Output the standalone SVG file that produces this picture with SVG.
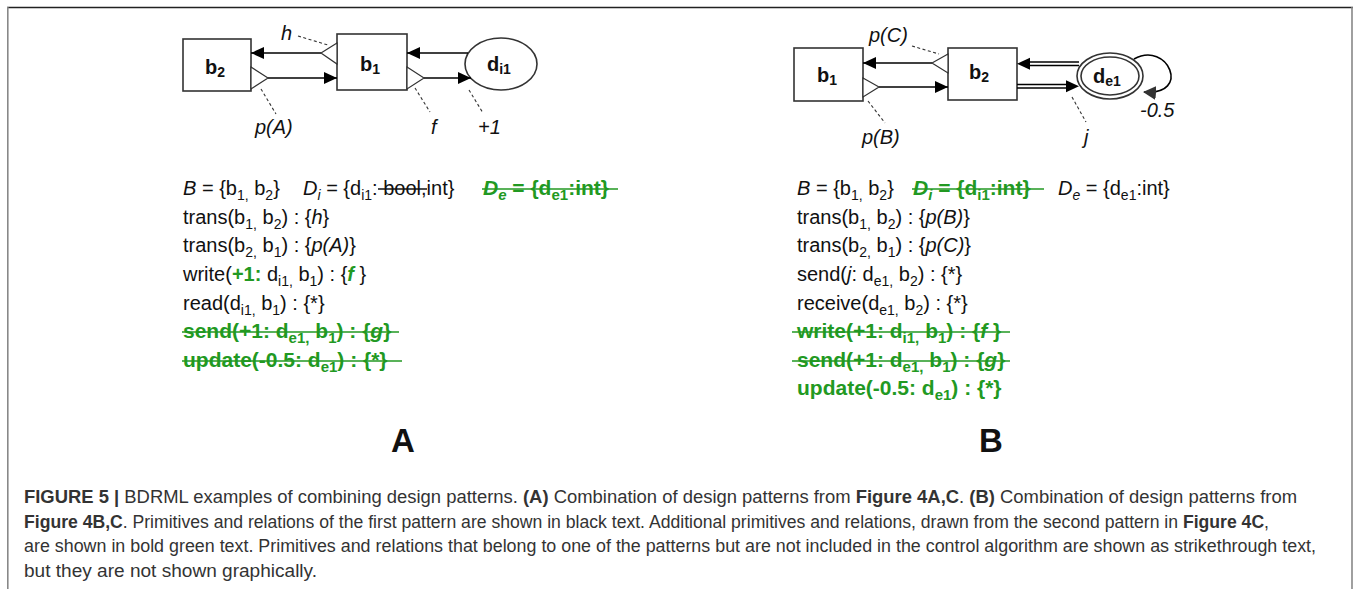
<svg xmlns="http://www.w3.org/2000/svg" width="1356" height="589" viewBox="0 0 1356 589">
<style>
.box{fill:#fff;stroke:#333;stroke-width:1.6}
.ln{stroke:#000;stroke-width:1.6;fill:none}
.tri{fill:#fff;stroke:#333;stroke-width:1.2}
.dash{stroke:#333;stroke-width:1.1;stroke-dasharray:3 2.5;fill:none}
.nl{font-family:"Liberation Sans",Arial,sans-serif;font-weight:bold;font-size:20px;fill:#111}
.lbl{font-family:"Liberation Sans",Arial,sans-serif;font-style:italic;font-size:20px;fill:#111}
.t{font-family:"Liberation Sans",Arial,sans-serif;font-size:20px;fill:#111}
.g{fill:#229922;font-weight:bold}
.gl{font-size:21px}
.st{stroke-width:1.7;fill:none}
.cap{font-family:"Liberation Sans",Arial,sans-serif;font-size:17.5px;fill:#333}
.big{font-family:"Liberation Sans",Arial,sans-serif;font-weight:bold;font-size:33px;fill:#111}
</style>
<defs>
<marker id="ah" markerUnits="userSpaceOnUse" markerWidth="14" markerHeight="12" refX="13" refY="6" orient="auto"><path d="M0,0 L13,6 L0,12 z" fill="#000"/></marker>
<marker id="ahg" markerUnits="userSpaceOnUse" markerWidth="14" markerHeight="14" refX="12" refY="7" orient="auto"><path d="M0,0 L13,7 L0,14 z" fill="#333"/></marker>
</defs>
<rect x="0" y="0" width="1356" height="589" fill="#fff"/>
<g id="frame">
<line x1="7" y1="7.5" x2="1353" y2="7.5" stroke="#222" stroke-width="1.6"/>
<line x1="7.8" y1="7" x2="7.8" y2="589" stroke="#888" stroke-width="1.6"/>
<line x1="1352" y1="7" x2="1352" y2="589" stroke="#888" stroke-width="1.6"/>
</g>

<g id="A-b2"><rect class="box" x="183" y="39" width="68" height="52"/><text class="nl" x="205" y="74">b<tspan font-size="14" dy="3">2</tspan></text></g>
<g id="A-b1"><rect class="box" x="337" y="34" width="70" height="56"/><text class="nl" x="360" y="71">b<tspan font-size="14" dy="3">1</tspan></text></g>
<g id="A-di1"><ellipse class="box" cx="501" cy="64" rx="36" ry="26"/><text class="nl" x="487" y="71">d<tspan font-size="14" dy="3">i1</tspan></text></g>

<g id="A-connectors">
<line class="ln" x1="321" y1="53" x2="251" y2="53" marker-end="url(#ah)"/>
<polygon class="tri" points="337,43 321,53 337,64"/>
<line class="ln" x1="268" y1="78" x2="337" y2="78" marker-end="url(#ah)"/>
<polygon class="tri" points="251,67 268,78 251,89"/>
<line class="ln" x1="468" y1="53" x2="407" y2="53" marker-end="url(#ah)"/>
<line class="ln" x1="424" y1="78" x2="471" y2="78" marker-end="url(#ah)"/>
<polygon class="tri" points="407,67 424,78 407,89"/>
<line class="dash" x1="298" y1="36" x2="328" y2="45"/>
<line class="dash" x1="261" y1="89" x2="276" y2="114"/>
<line class="dash" x1="415" y1="88" x2="430" y2="112"/>
<line class="dash" x1="469" y1="90" x2="483" y2="113"/>
</g>
<g id="A-labels">
<text class="lbl" x="281" y="40">h</text>
<text class="lbl" x="255" y="134">p(A)</text>
<text class="lbl" x="431" y="134">f</text>
<text class="lbl" x="478" y="134">+1</text>
</g>

<g id="B-b1"><rect class="box" x="794" y="48" width="69" height="53"/><text class="nl" x="817" y="82">b<tspan font-size="14" dy="3">1</tspan></text></g>
<g id="B-b2"><rect class="box" x="948" y="48" width="69" height="52"/><text class="nl" x="969" y="79">b<tspan font-size="14" dy="3">2</tspan></text></g>
<g id="B-de1"><ellipse class="box" cx="1110" cy="76" rx="33" ry="23"/><ellipse class="box" cx="1110" cy="76" rx="29" ry="19"/><text class="nl" x="1093" y="83">d<tspan font-size="14" dy="3">e1</tspan></text></g>

<g id="B-connectors">
<line class="ln" x1="932" y1="63" x2="863" y2="63" marker-end="url(#ah)"/>
<polygon class="tri" points="948,54 932,63 948,73"/>
<line class="ln" x1="879" y1="87" x2="948" y2="87" marker-end="url(#ah)"/>
<polygon class="tri" points="863,78 879,87 863,97"/>
<line stroke="#000" stroke-width="1.3" x1="1079" y1="62" x2="1028" y2="62"/>
<line stroke="#000" stroke-width="1.3" x1="1079" y1="65.5" x2="1028" y2="65.5"/>
<polygon points="1017,63.7 1030,57.7 1030,69.7" fill="#000"/>
<line stroke="#000" stroke-width="1.3" x1="1017" y1="84.5" x2="1068" y2="84.5"/>
<line stroke="#000" stroke-width="1.3" x1="1017" y1="88" x2="1068" y2="88"/>
<polygon points="1079,86.2 1066,80.2 1066,92.2" fill="#000"/>
<path class="ln" d="M1134,59 C1168,40 1192,96 1144,92" marker-end="url(#ahg)"/>
<line class="dash" x1="912" y1="46" x2="939" y2="54"/>
<line class="dash" x1="868" y1="101" x2="885" y2="123"/>
<line class="dash" x1="1072" y1="97" x2="1086" y2="122"/>
</g>
<g id="B-labels">
<text class="lbl" x="869" y="42">p(C)</text>
<text class="lbl" x="862" y="144">p(B)</text>
<text class="lbl" x="1084" y="144">j</text>
<text class="lbl" x="1140" y="117">-0.5</text>
</g>

<g id="A-text">
<text class="t" x="183" y="195"><tspan font-style="italic">B</tspan> = {b<tspan font-size="14" dy="5">1,</tspan><tspan dy="-5"> b</tspan><tspan font-size="14" dy="5">2</tspan><tspan dy="-5">}</tspan></text>
<text class="t" x="303" y="195"><tspan font-style="italic">D</tspan><tspan font-size="14" dy="5" font-style="italic">i</tspan><tspan dy="-5"> = {d</tspan><tspan font-size="14" dy="5">i1</tspan><tspan dy="-5">: bool,int}</tspan></text>
<line x1="378" y1="189" x2="427" y2="189" stroke="#111" stroke-width="1.5"/>
<text class="t g gl" x="483" y="195"><tspan font-style="italic">D</tspan><tspan font-size="15" dy="5" font-style="italic">e</tspan><tspan dy="-5"> = {d</tspan><tspan font-size="15" dy="5">e1</tspan><tspan dy="-5">:int}</tspan></text>
<line x1="482" y1="189" x2="618" y2="189" stroke="#229922" class="st"/>
<text class="t" x="183" y="224">trans(b<tspan font-size="14" dy="5">1,</tspan><tspan dy="-5"> b</tspan><tspan font-size="14" dy="5">2</tspan><tspan dy="-5">) : {</tspan><tspan font-style="italic">h</tspan>}</text>
<text class="t" x="183" y="252">trans(b<tspan font-size="14" dy="5">2,</tspan><tspan dy="-5"> b</tspan><tspan font-size="14" dy="5">1</tspan><tspan dy="-5">) : {</tspan><tspan font-style="italic">p(A)</tspan>}</text>
<text class="t" x="183" y="281">write(<tspan class="g">+1:</tspan> d<tspan font-size="14" dy="5">i1,</tspan><tspan dy="-5"> b</tspan><tspan font-size="14" dy="5">1</tspan><tspan dy="-5">) : {</tspan><tspan class="g" font-style="italic">f</tspan> }</text>
<text class="t" x="183" y="310">read(d<tspan font-size="14" dy="5">i1,</tspan><tspan dy="-5"> b</tspan><tspan font-size="14" dy="5">1</tspan><tspan dy="-5">) : {*}</tspan></text>
<text class="t g gl" x="183" y="338">send(+1: d<tspan font-size="15" dy="5">e1,</tspan><tspan dy="-5"> b</tspan><tspan font-size="15" dy="5">1</tspan><tspan dy="-5">) : {</tspan><tspan font-style="italic">g</tspan>}</text>
<line x1="182" y1="332" x2="399" y2="332" stroke="#229922" class="st"/>
<text class="t g gl" x="183" y="367">update(-0.5: d<tspan font-size="15" dy="5">e1</tspan><tspan dy="-5">) : {*}</tspan></text>
<line x1="182" y1="361" x2="402" y2="361" stroke="#229922" class="st"/>
<text class="big" x="391" y="452">A</text>
</g>

<g id="B-text">
<text class="t" x="797" y="195"><tspan font-style="italic">B</tspan> = {b<tspan font-size="14" dy="5">1,</tspan><tspan dy="-5"> b</tspan><tspan font-size="14" dy="5">2</tspan><tspan dy="-5">}</tspan></text>
<text class="t g gl" x="913" y="195"><tspan font-style="italic">D</tspan><tspan font-size="15" dy="5" font-style="italic">i</tspan><tspan dy="-5"> = {d</tspan><tspan font-size="15" dy="5">i1</tspan><tspan dy="-5">:int}</tspan></text>
<line x1="912" y1="189" x2="1044" y2="189" stroke="#229922" class="st"/>
<text class="t" x="1058" y="195"><tspan font-style="italic">D</tspan><tspan font-size="14" dy="5" font-style="italic">e</tspan><tspan dy="-5"> = {d</tspan><tspan font-size="14" dy="5">e1</tspan><tspan dy="-5">:int}</tspan></text>
<text class="t" x="797" y="224">trans(b<tspan font-size="14" dy="5">1,</tspan><tspan dy="-5"> b</tspan><tspan font-size="14" dy="5">2</tspan><tspan dy="-5">) : {</tspan><tspan font-style="italic">p(B)</tspan>}</text>
<text class="t" x="797" y="252">trans(b<tspan font-size="14" dy="5">2,</tspan><tspan dy="-5"> b</tspan><tspan font-size="14" dy="5">1</tspan><tspan dy="-5">) : {</tspan><tspan font-style="italic">p(C)</tspan>}</text>
<text class="t" x="797" y="281">send(<tspan font-style="italic">j</tspan>: d<tspan font-size="14" dy="5">e1,</tspan><tspan dy="-5"> b</tspan><tspan font-size="14" dy="5">2</tspan><tspan dy="-5">) : {*}</tspan></text>
<text class="t" x="797" y="310">receive(d<tspan font-size="14" dy="5">e1,</tspan><tspan dy="-5"> b</tspan><tspan font-size="14" dy="5">2</tspan><tspan dy="-5">) : {*}</tspan></text>
<text class="t g gl" x="797" y="338">write(+1: d<tspan font-size="15" dy="5">i1,</tspan><tspan dy="-5"> b</tspan><tspan font-size="15" dy="5">1</tspan><tspan dy="-5">) : {</tspan><tspan font-style="italic">f</tspan> }</text>
<line x1="792" y1="332" x2="1010" y2="332" stroke="#229922" class="st"/>
<text class="t g gl" x="797" y="367">send(+1: d<tspan font-size="15" dy="5">e1,</tspan><tspan dy="-5"> b</tspan><tspan font-size="15" dy="5">1</tspan><tspan dy="-5">) : {</tspan><tspan font-style="italic">g</tspan>}</text>
<line x1="792" y1="361" x2="1010" y2="361" stroke="#229922" class="st"/>
<text class="t g gl" x="797" y="395">update(-0.5: d<tspan font-size="15" dy="5">e1</tspan><tspan dy="-5">) : {*}</tspan></text>
<text class="big" x="979" y="452">B</text>
</g>

<g id="caption">
<text class="cap" x="24" y="503" textLength="1273" lengthAdjust="spacingAndGlyphs"><tspan font-weight="bold">FIGURE 5 |</tspan>  BDRML examples of combining design patterns. <tspan font-weight="bold">(A)</tspan> Combination of design patterns from <tspan font-weight="bold">Figure 4A,C</tspan>. <tspan font-weight="bold">(B)</tspan> Combination of design patterns from</text>
<text class="cap" x="24" y="528" textLength="1245" lengthAdjust="spacingAndGlyphs"><tspan font-weight="bold">Figure 4B,C</tspan>. Primitives and relations of the first pattern are shown in black text. Additional primitives and relations, drawn from the second pattern in <tspan font-weight="bold">Figure 4C</tspan>,</text>
<text class="cap" x="24" y="552" textLength="1292" lengthAdjust="spacingAndGlyphs">are shown in bold green text. Primitives and relations that belong to one of the patterns but are not included in the control algorithm are shown as strikethrough text,</text>
<text class="cap" x="24" y="577" textLength="293" lengthAdjust="spacingAndGlyphs">but they are not shown graphically.</text>
</g>
</svg>
